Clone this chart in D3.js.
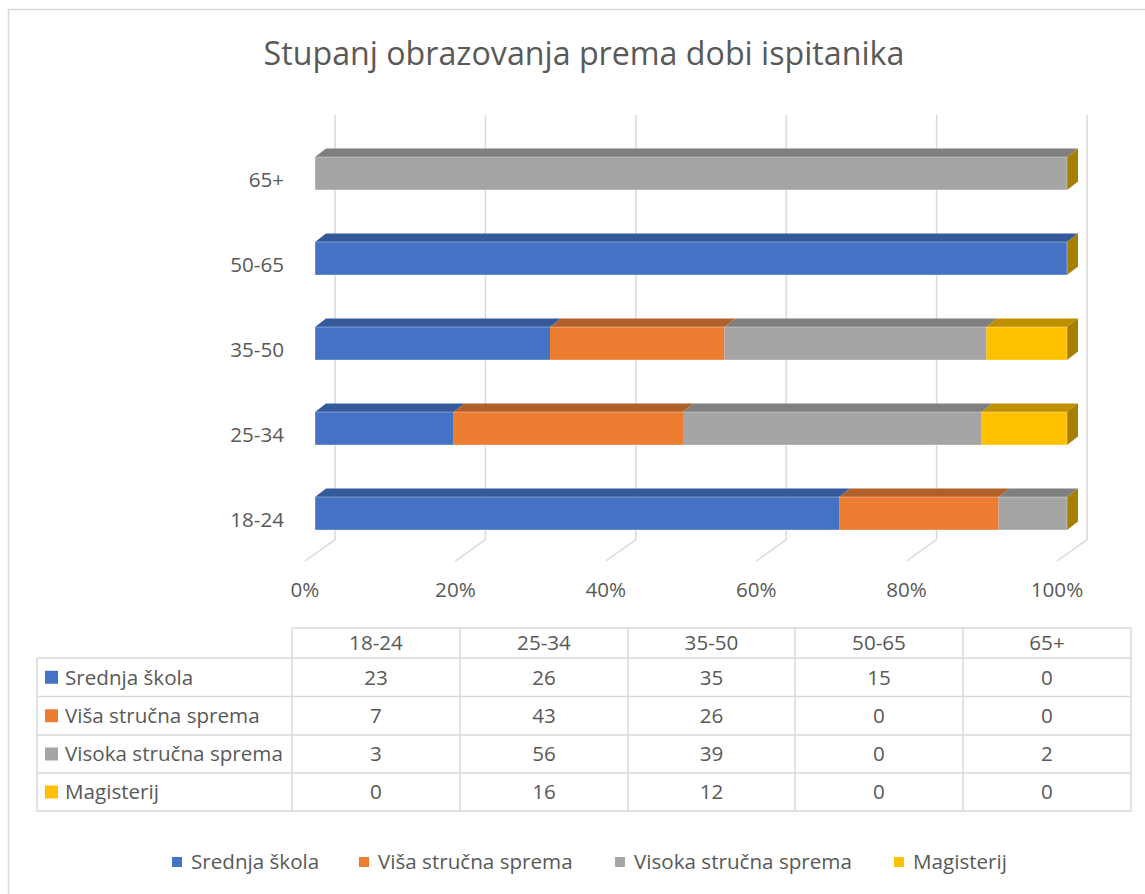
<!DOCTYPE html>
<html>
<head>
<meta charset="utf-8">
<script src="https://cdn.jsdelivr.net/npm/d3@7"></script>
<style>
  html, body { margin: 0; padding: 0; background: #fff; }
  svg { display: block; }
  text { font-family: "Open Sans", "Noto Sans", sans-serif; fill: #595959; }
</style>
</head>
<body>
<svg id="chart" width="1145" height="894"></svg>
<script>
// ---- data ----
const title = "Stupanj obrazovanja prema dobi ispitanika";
const categories = ["18-24", "25-34", "35-50", "50-65", "65+"];
const seriesNames = ["Srednja škola", "Viša stručna sprema", "Visoka stručna sprema", "Magisterij"];
const srednja = [23, 26, 35, 15, 0];
const visa = [7, 43, 26, 0, 0];
const visoka = [3, 56, 39, 0, 2];
const magisterij = [0, 16, 12, 0, 0];
const tickValues = [0, 0.2, 0.4, 0.6, 0.8, 1.0];

const seriesValues = [srednja, visa, visoka, magisterij];
const frontColors = ["#4472C4", "#ED7D31", "#A5A5A5", "#FFC000"];
const topColors = ["#345A9C", "#B2602A", "#7F7F7F", "#BF9000"];
const sideColor = "#A67E00";

const svg = d3.select("#chart");

// outer chart border
svg.append("rect").attr("x", 8.5).attr("y", 9.5).attr("width", 1150).attr("height", 900)
  .attr("fill", "#fff").attr("stroke", "#D9D9D9").attr("stroke-width", 1.5);

// helper: fit font size so that a reference string gets a target width
function fitSize(str, target) {
  const t = svg.append("text").attr("font-size", 100).text(str);
  const w = t.node().getComputedTextLength();
  t.remove();
  return 100 * target / w;
}
const titleSize = fitSize(title, 641);
const labelSize = fitSize("Visoka stručna sprema", 218);

// title
svg.append("text").attr("x", 584).attr("y", 65).attr("text-anchor", "middle")
  .attr("font-size", titleSize).text(title);

// ---- scales ----
const x = d3.scaleLinear().domain([0, 1]).range([315, 1067]);   // bar front plane
const y = d3.scaleBand().domain(categories.slice().reverse())
  .range([131.5, 555.5]).paddingInner(0.612).paddingOuter(0.3);
const dx = 11, dy = -8.5;           // bar depth
const wallDX = 20, floorDX = -10;   // back wall & floor front offsets from bar front
const gridTop = 115, gridBottom = 539.5, floorFrontY = 561;

// ---- gridlines on back wall + floor ----
const grid = svg.append("g");
tickValues.forEach(v => {
  const xb = x(v) + wallDX, xf = x(v) + floorDX;
  grid.append("path")
    .attr("d", `M${xb},${gridTop} L${xb},${gridBottom} L${xf},${floorFrontY}`)
    .attr("fill", "none").attr("stroke", "#D9D9D9").attr("stroke-width", 1.5);
});

// x tick labels
const fmt = d3.format(".0%");
svg.append("g").selectAll("text").data(tickValues).join("text")
  .attr("x", d => x(d) + floorDX).attr("y", 597)
  .attr("text-anchor", "middle").attr("font-size", labelSize)
  .text(d => fmt(d));

// category labels
svg.append("g").selectAll("text").data(categories).join("text")
  .attr("x", 284).attr("y", d => y(d) + y.bandwidth() / 2 + 13.5)
  .attr("text-anchor", "end").attr("font-size", labelSize)
  .text(d => d);

// ---- bars ----
const bars = svg.append("g");
categories.forEach((c, ci) => {
  const total = d3.sum(seriesValues, s => s[ci]);
  let acc = 0;
  const yt = y(c), h = y.bandwidth();
  seriesValues.forEach((s, si) => {
    const v0 = acc / total, v1 = (acc + s[ci]) / total;
    acc += s[ci];
    if (s[ci] === 0) return;
    const x0 = x(v0), x1 = x(v1);
    bars.append("rect").attr("x", x0).attr("y", yt).attr("width", x1 - x0).attr("height", h)
      .attr("fill", frontColors[si]);
    bars.append("path")
      .attr("d", `M${x0},${yt} L${x1},${yt} L${x1 + dx},${yt + dy} L${x0 + dx},${yt + dy} Z`)
      .attr("fill", topColors[si]);
  });
  // end cap (side face) at 100%
  const xe = x(1);
  bars.append("path")
    .attr("d", `M${xe},${yt} L${xe + dx},${yt + dy} L${xe + dx},${yt + dy + h} L${xe},${yt + h} Z`)
    .attr("fill", sideColor);
  // subtle light outline of front face
  bars.append("rect").attr("x", x(0)).attr("y", yt).attr("width", xe - x(0)).attr("height", h)
    .attr("fill", "none").attr("stroke", "#fff").attr("stroke-opacity", 0.35).attr("stroke-width", 1);
});

// ---- data table ----
const colX = [37, 292, 460, 628, 795, 963, 1131];
const rowY = [628, 658, 696.5, 735, 773, 811];
const tbl = svg.append("g");
const lineColor = "#D9D9D9";
// horizontal lines
rowY.forEach((ry, i) => {
  const xs = i === 0 ? colX[1] : colX[0];
  tbl.append("line").attr("x1", xs).attr("x2", colX[6]).attr("y1", ry).attr("y2", ry)
    .attr("stroke", lineColor).attr("stroke-width", 1.5);
});
// vertical lines
colX.forEach((cx, i) => {
  const ys = i === 0 ? rowY[1] : rowY[0];
  tbl.append("line").attr("x1", cx).attr("x2", cx).attr("y1", ys).attr("y2", rowY[5])
    .attr("stroke", lineColor).attr("stroke-width", 1.5);
});
// header
categories.forEach((c, ci) => {
  tbl.append("text").attr("x", (colX[ci + 1] + colX[ci + 2]) / 2)
    .attr("y", (rowY[0] + rowY[1]) / 2).attr("dy", "0.36em")
    .attr("text-anchor", "middle").attr("font-size", labelSize).text(c);
});
// rows
seriesNames.forEach((name, si) => {
  const cy = (rowY[si + 1] + rowY[si + 2]) / 2;
  tbl.append("rect").attr("x", 45).attr("y", cy - 6.5).attr("width", 13).attr("height", 13)
    .attr("fill", frontColors[si]);
  tbl.append("text").attr("x", 65).attr("y", cy).attr("dy", "0.36em")
    .attr("font-size", labelSize).text(name);
  categories.forEach((c, ci) => {
    tbl.append("text").attr("x", (colX[ci + 1] + colX[ci + 2]) / 2)
      .attr("y", cy).attr("dy", "0.36em")
      .attr("text-anchor", "middle").attr("font-size", labelSize).text(seriesValues[si][ci]);
  });
});

// ---- legend ----
const legendX = [172, 359, 615, 894];
const legend = svg.append("g");
seriesNames.forEach((name, si) => {
  legend.append("rect").attr("x", legendX[si]).attr("y", 857).attr("width", 10).attr("height", 10)
    .attr("fill", frontColors[si]);
  legend.append("text").attr("x", legendX[si] + 19).attr("y", 862).attr("dy", "0.36em")
    .attr("font-size", labelSize).text(name);
});
</script>
</body>
</html>
